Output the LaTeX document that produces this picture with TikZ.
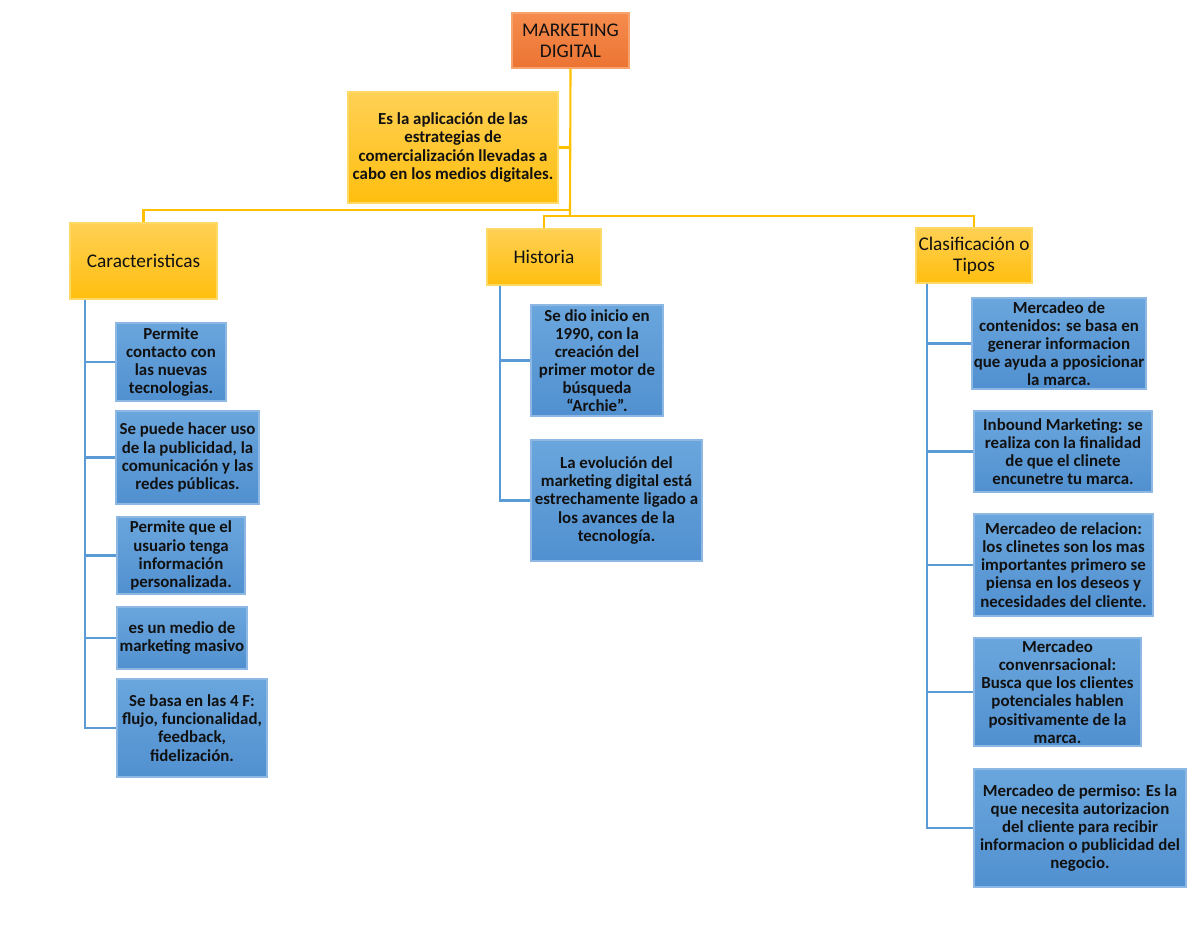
\documentclass[tikz,border=0pt]{standalone}
\usepackage{fontspec}
\setmainfont{Carlito}
\definecolor{bluetop}{HTML}{6AA6DD}
\definecolor{bluebot}{HTML}{5190D0}
\definecolor{blueedge}{HTML}{8DB8E4}
\definecolor{bline}{HTML}{5B9BD5}
\definecolor{yeltop}{HTML}{FFD054}
\definecolor{yelbot}{HTML}{FFBF0F}
\definecolor{yeledge}{HTML}{FFD966}
\definecolor{yline}{HTML}{FFC000}
\definecolor{ortop}{HTML}{F58C4E}
\definecolor{orbot}{HTML}{EC7432}
\definecolor{oredge}{HTML}{F7A36E}
\definecolor{txt}{HTML}{111111}
\begin{document}
\begin{tikzpicture}[x=0.02cm,y=-0.02cm,
  bbox/.style={draw=blueedge, line width=0.8pt, top color=bluetop, bottom color=bluebot,
    align=center, inner sep=1pt, text=txt,
    font=\fontsize{9.6}{10.3}\selectfont\bfseries},
  ybox/.style={draw=yeledge, line width=0.8pt, top color=yeltop, bottom color=yelbot,
    align=center, inner sep=1pt, text=txt,
    font=\fontsize{11}{12}\selectfont},
  obox/.style={draw=oredge, line width=0.8pt, top color=ortop, bottom color=orbot,
    align=center, inner sep=1pt, text=txt,
    font=\fontsize{11}{12}\selectfont},
  ylink/.style={draw=yline, line width=1.2pt},
  blink/.style={draw=bline, line width=1.2pt},
  wh/.style 2 args={minimum width=#1*0.02cm, minimum height=#2*0.02cm}
]
\useasboundingbox (0,0) rectangle (1200,927);

% top level
\node[obox, wh={117}{55}] (md) at (570.5,40.5) {MARKETING\\DIGITAL};
\node[ybox, wh={210}{111}, font=\fontsize{9.6}{10.3}\selectfont\bfseries] (def) at (453,147.5)
  {Es la aplicación de las\\estrategias de\\comercialización llevadas a\\cabo en los medios digitales.};
\node[ybox, wh={147}{76}] (car) at (143.5,261) {Caracteristicas};
\node[ybox, wh={114}{56}] (hist) at (544,257) {Historia};
\node[ybox, wh={116}{55}] (clas) at (974,255.5) {Clasificación o\\Tipos};

% left children
\node[bbox, wh={110}{78}] (c1) at (171,362) {Permite\\contacto con\\las nuevas\\tecnologias.};
\node[bbox, wh={143}{93}] (c2) at (187.5,457.5) {Se puede hacer uso\\de la publicidad, la\\comunicación y las\\redes públicas.};
\node[bbox, wh={128}{77}] (c3) at (181,555.5) {Permite que el\\usuario tenga\\información\\personalizada.};
\node[bbox, wh={130}{62}] (c4) at (182,638) {es un medio de\\marketing masivo};
\node[bbox, wh={150}{98}] (c5) at (192,728) {Se basa en las 4 F:\\flujo, funcionalidad,\\feedback,\\fidelización.};

% middle children
\node[bbox, wh={132}{111}] (h1) at (597,360.5) {Se dio inicio en\\1990, con la\\creación del\\primer motor de\\búsqueda\\“Archie”.};
\node[bbox, wh={171}{121}] (h2) at (616.5,500.5) {La evolución del\\marketing digital está\\estrechamente ligado a\\los avances de la\\tecnología.};

% right children
\node[bbox, wh={170}{91}] (r1) at (1059,343.5) {Mercadeo de\\contenidos: se basa en\\generar informacion\\que ayuda a pposicionar\\la marca.};
\node[bbox, wh={178}{81}] (r2) at (1063,451.5) {Inbound Marketing: se\\realiza con la finalidad\\de que el clinete\\encunetre tu marca.};
\node[bbox, wh={179}{102}] (r3) at (1063.5,565) {Mercadeo de relacion:\\los clinetes son los mas\\importantes primero se\\piensa en los deseos y\\necesidades del cliente.};
\node[bbox, wh={167}{108}] (r4) at (1057.5,692) {Mercadeo\\convenrsacional:\\Busca que los clientes\\potenciales hablen\\positivamente de la\\marca.};
\node[bbox, wh={212}{118}] (r5) at (1080,828) {Mercadeo de permiso: Es la\\que necesita autorizacion\\del cliente para recibir\\informacion o publicidad del\\negocio.};

% junction coordinates
\coordinate (jL) at (570,210);
\coordinate (jR) at (570,216);
\coordinate (cL) at (85,0);
\coordinate (cM) at (500,0);
\coordinate (cR) at (927,0);

% yellow tree
\draw[ylink] (md.south) -- (jR);
\draw[ylink] (def.east) -- (def.east -| md.south);
\draw[ylink] (jL) -| (car.north);
\draw[ylink] (jR) -| (hist.north);
\draw[ylink] (jR) -| (clas.north);

% blue connectors
\foreach \n in {c1,c2,c3,c4,c5}
  \draw[blink] (car.south -| cL) |- (\n.west);
\foreach \n in {h1,h2}
  \draw[blink] (hist.south -| cM) |- (\n.west);
\foreach \n in {r1,r2,r3,r4,r5}
  \draw[blink] (clas.south -| cR) |- (\n.west);
\end{tikzpicture}
\end{document}
